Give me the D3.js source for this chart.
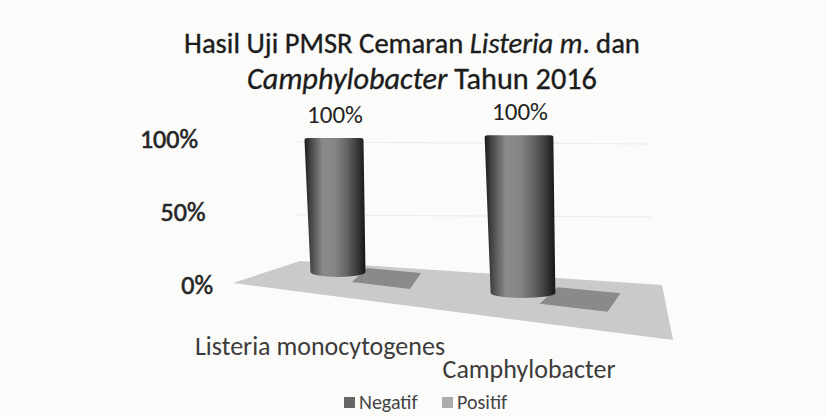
<!DOCTYPE html>
<html><head><meta charset="utf-8">
<script src="https://cdn.jsdelivr.net/npm/d3@7"></script>
<style>html,body{margin:0;padding:0;background:#fbfbf9;}svg{display:block;}</style>
</head><body><svg id="c" width="826" height="417"></svg>
<script>
const categories = ["Listeria monocytogenes", "Camphylobacter"];
const negatif = [100, 100];
const positif = [0, 0];
const seriesNames = ["Negatif", "Positif"];
const yTicks = [0, 50, 100];
const yTickLabels = ["0%", "50%", "100%"];
const dataLabels = ["100%", "100%"];

const svg = d3.select("#c");
const font = "Carlito, 'Open Sans', 'Liberation Sans', sans-serif";

function fit(sel, target) {
  const fs = +sel.attr("font-size");
  const w = sel.node().getComputedTextLength();
  sel.attr("font-size", fs * target / w);
}

// scales
const x = d3.scalePoint().domain(categories).range([336, 521]);
const persp = d3.scaleLinear().domain(x.range()).range([1, 1.17]);
const floorY = d3.scaleLinear().domain(x.range()).range([277, 298]);
const h = d3.scaleLinear().domain([0, 100]).range([0, 139]);
const yAxis = d3.scaleLinear().domain([0, 100]).range([286, 140]);

const defs = svg.append("defs");
const g = defs.append("linearGradient").attr("id", "cyl").attr("x1", 0).attr("x2", 1);
[[0,"#1a1a1a"],[0.1,"#454545"],[0.3,"#8a8a8a"],[0.5,"#858585"],[0.7,"#636363"],[0.88,"#353535"],[1,"#161616"]]
  .forEach(([o,c]) => g.append("stop").attr("offset", o).attr("stop-color", c));

// gridlines (back wall)
const gx0 = x.range()[0] - 40, gx1 = x.range()[1] + 130;
svg.append("g").selectAll("line").data(yTicks.slice(1)).join("line")
  .attr("x1", gx0).attr("x2", gx1)
  .attr("y1", d => yAxis(d) + 2).attr("y2", d => yAxis(d) + 4)
  .attr("stroke", "#ececec").attr("stroke-width", 1.2);

// floor
const c0 = x(categories[0]), c1 = x(categories[1]);
const floorPts = [
  [c0 - 103, floorY(c0) + 6],
  [c0 - 36, floorY(c0) - 16],
  [c1 + 141, floorY(c1) - 13],
  [c1 + 152, floorY(c1) + 42]
];
svg.append("polygon").attr("points", floorPts.map(p => p.join(",")).join(" "))
  .attr("fill", "#cacaca");

// positif (flat, value 0) parallelograms
const posShape = [[-35, 4], [-20, -10], [34, -5], [23, 11]];
svg.append("g").selectAll("polygon").data(categories).join("polygon")
  .attr("points", (d, i) => {
    const cx = x(d) + 51 * persp(x(d));
    const cy = floorY(x(d)) + 1 - h(positif[i]);
    const k = persp(x(d));
    return posShape.map(([dx, dy]) => [cx + dx * k, cy + dy * k].join(",")).join(" ");
  })
  .attr("fill", "#8a8a8a");

// negatif cylinders
svg.append("g").selectAll("path").data(categories).join("path")
  .attr("d", (d, i) => {
    const k = persp(x(d));
    const w = 57 * k;
    const base = floorY(x(d));
    const top = base - h(negatif[i]) * k;
    const cx = x(d);
    const xl = cx - w / 2 - 3, xr = cx + w / 2 - 1;
    const bl = cx - w / 2 + 3, br = cx + w / 2 + 1;
    const ry = 5;
    return `M${xl},${top + 2} Q${xl},${top} ${xl + 3},${top} L${xr - 3},${top} Q${xr},${top} ${xr},${top + 2}` +
      ` L${br},${base - ry} A${(br - bl) / 2},${ry} 0 0 1 ${bl},${base - ry} Z`;
  })
  .attr("fill", "url(#cyl)");

// data labels
svg.append("g").selectAll("text").data(categories).join("text")
  .attr("x", d => x(d) - 1)
  .attr("y", (d, i) => floorY(x(d)) - h(negatif[i]) * persp(x(d)) - 15)
  .attr("text-anchor", "middle")
  .attr("font-family", font).attr("font-size", 25).attr("fill", "#222")
  .text((d, i) => dataLabels[i]);

// y-axis labels (right-aligned on slanted edge)
const yLabX = d3.scaleLinear().domain([0, 100]).range([213, 198]);
svg.append("g").selectAll("text").data(yTicks).join("text")
  .attr("x", d => yLabX(d)).attr("y", d => yAxis(d) + 8)
  .attr("text-anchor", "end")
  .attr("font-family", font).attr("font-size", 26).attr("fill", "#262626")
  .attr("stroke", "#262626").attr("stroke-width", 0.6)
  .text((d, i) => yTickLabels[i]);

// category labels
const catLab = svg.append("g").attr("font-family", font).attr("font-size", 26).attr("fill", "#3c3c3c");
const catDx = [-16, 8];
catLab.selectAll("text").data(categories).join("text")
  .attr("x", (d, i) => x(d) + catDx[i])
  .attr("y", (d, i) => 355 + i * 23)
  .attr("text-anchor", "middle")
  .text(d => d);

// title
const title1 = svg.append("text").attr("text-anchor", "middle").attr("font-family", font)
  .attr("font-size", 27).attr("fill", "#1c1c1c").attr("stroke", "#1c1c1c").attr("stroke-width", 0.35)
  .attr("x", 412).attr("y", 53);
title1.append("tspan").text("Hasil Uji PMSR Cemaran ");
title1.append("tspan").attr("font-style", "italic").text("Listeria m");
title1.append("tspan").text(". dan");
fit(title1, 456);
const title2 = svg.append("text").attr("text-anchor", "middle").attr("font-family", font)
  .attr("font-size", 27).attr("fill", "#1c1c1c").attr("stroke", "#1c1c1c").attr("stroke-width", 0.35)
  .attr("x", 422).attr("y", 88.5);
title2.append("tspan").attr("font-style", "italic").text("Camphylobacter");
title2.append("tspan").text(" Tahun 2016");
fit(title2, 350);

// legend
const legColors = ["#666666", "#ababab"];
const leg = svg.append("g").attr("font-family", font).attr("font-size", 20).attr("fill", "#444");
const legX = [344, 442];
seriesNames.forEach((s, i) => {
  leg.append("rect").attr("x", legX[i]).attr("y", 397).attr("width", 11).attr("height", 11).attr("fill", legColors[i]);
  leg.append("text").attr("x", legX[i] + 15).attr("y", 409).text(s);
});
</script></body></html>
